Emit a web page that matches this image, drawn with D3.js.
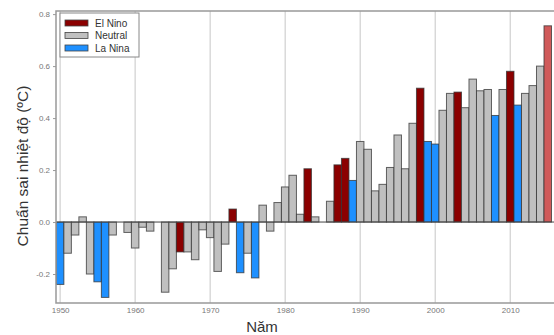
<!DOCTYPE html>
<html>
<head>
<meta charset="utf-8">
<script src="https://cdn.jsdelivr.net/npm/d3@7"></script>
<style>
    body { margin: 0; background: #fff; }
    text { font-family: "Liberation Sans", Arial, sans-serif; }
</style>
</head>
<body>
<script>
//years shown on the chart
var years = d3.range(1950, 2016);

//temperature anomaly per year (degC)
var anomalies = [
    -0.24, -0.12, -0.05, 0.02, -0.20, -0.23, -0.29, -0.05, 0.00, -0.04,
    -0.10, -0.02, -0.035, 0.00, -0.27, -0.18, -0.115, -0.115, -0.145, -0.03,
    -0.06, -0.19, -0.085, 0.05, -0.195, -0.12, -0.215, 0.065, -0.035, 0.075,
    0.135, 0.18, 0.03, 0.205, 0.02, 0.00, 0.08, 0.22, 0.245, 0.16,
    0.31, 0.28, 0.12, 0.145, 0.21, 0.335, 0.205, 0.38, 0.515, 0.31,
    0.30, 0.43, 0.495, 0.50, 0.44, 0.55, 0.505, 0.51, 0.41, 0.51,
    0.58, 0.45, 0.495, 0.525, 0.60, 0.755
];

//ENSO phase per year: E = El Nino, N = Neutral, L = La Nina, P = El Nino (partial year)
var phases = [
    "L","N","N","N","N","L","L","N","N","N",
    "N","N","N","N","N","N","E","N","N","N",
    "N","N","N","E","L","N","L","N","N","N",
    "N","N","N","E","N","N","N","E","E","L",
    "N","N","N","N","N","N","N","N","E","L",
    "L","N","N","E","N","N","N","N","L","N",
    "E","L","N","N","N","P"
];

var legendLabels = ["El Nino", "Neutral", "La Nina"];
var legendPhases = ["E", "N", "L"];
var yTicks = [-0.2, 0.0, 0.2, 0.4, 0.6, 0.8];
var xTicks = [1950, 1960, 1970, 1980, 1990, 2000, 2010];

var colors = {E: "#8b0000", N: "#c0c0c0", L: "#1e90ff", P: "#d05a5a"};

setChart();

function setChart(){
    var width = 554,
        height = 335;

    //plot area
    var left = 56, top = 11, bottom = 303, right = 556;

    var svg = d3.select("body")
        .append("svg")
        .attr("width", width)
        .attr("height", height);

    var x = d3.scaleLinear()
        .domain([1949.45, 2016.1])
        .range([left, right]);

    var y = d3.scaleLinear()
        .domain([-0.3115, 0.812])
        .range([bottom, top]);

    var barW = x(1951) - x(1950);

    //vertical grid lines at each decade
    svg.selectAll(".grid")
        .data(xTicks)
        .enter()
        .append("line")
        .attr("class", "grid")
        .attr("x1", function(d){ return x(d); })
        .attr("x2", function(d){ return x(d); })
        .attr("y1", top)
        .attr("y2", bottom)
        .attr("stroke", "#d0d0d0")
        .attr("stroke-width", 1.2);

    var data = years.map(function(yr, i){
        return {year: yr, value: anomalies[i], phase: phases[i]};
    });

    //bars
    svg.selectAll(".bar")
        .data(data)
        .enter()
        .append("rect")
        .attr("class", "bar")
        .attr("x", function(d){ return x(d.year) - barW / 2; })
        .attr("width", barW)
        .attr("y", function(d){ return y(Math.max(0, d.value)); })
        .attr("height", function(d){ return Math.abs(y(d.value) - y(0)); })
        .attr("fill", function(d){ return colors[d.phase]; })
        .attr("stroke", "#333")
        .attr("stroke-opacity", 0.75)
        .attr("stroke-width", 1);

    //zero line
    svg.append("line")
        .attr("x1", left)
        .attr("x2", right)
        .attr("y1", y(0))
        .attr("y2", y(0))
        .attr("stroke", "#444")
        .attr("stroke-width", 1);

    //frame
    svg.append("path")
        .attr("d", "M" + right + "," + top + "H" + left + "V" + bottom + "H" + right)
        .attr("fill", "none")
        .attr("stroke", "#999")
        .attr("stroke-width", 1.5);

    //y axis
    var yAxis = svg.append("g")
        .attr("transform", "translate(" + left + ",0)")
        .call(d3.axisLeft(y)
            .tickValues(yTicks)
            .tickSize(3)
            .tickFormat(function(d){ return d3.format(".1f")(d).replace("−", "-"); }));
    yAxis.select(".domain").remove();
    yAxis.selectAll("line").attr("stroke", "#999");
    yAxis.selectAll("text")
        .attr("fill", "#777")
        .attr("font-size", "8px")
        .attr("font-family", "Liberation Sans, Arial, sans-serif");

    //x axis
    var xAxis = svg.append("g")
        .attr("transform", "translate(0," + bottom + ")")
        .call(d3.axisBottom(x)
            .tickValues(xTicks)
            .tickSize(0)
            .tickPadding(4)
            .tickFormat(d3.format("d")));
    xAxis.select(".domain").remove();
    xAxis.selectAll("text")
        .attr("fill", "#777")
        .attr("font-size", "8px")
        .attr("font-family", "Liberation Sans, Arial, sans-serif");

    //axis titles
    svg.append("text")
        .attr("transform", "translate(28,166) rotate(-90)")
        .attr("text-anchor", "middle")
        .attr("font-size", "15.5px")
        .attr("fill", "#333")
        .text("Chuẩn sai nhiệt độ (ºC)");

    svg.append("text")
        .attr("x", 262)
        .attr("y", 332)
        .attr("text-anchor", "middle")
        .attr("font-size", "15px")
        .attr("fill", "#333")
        .text("Năm");

    //legend
    var legend = svg.append("g")
        .attr("transform", "translate(60,13)");
    legend.append("rect")
        .attr("width", 79)
        .attr("height", 44)
        .attr("fill", "#fff")
        .attr("stroke", "#888")
        .attr("stroke-width", 1);
    var items = legend.selectAll(".item")
        .data(legendLabels)
        .enter()
        .append("g")
        .attr("class", "item")
        .attr("transform", function(d, i){ return "translate(5," + (10 + i * 12.5) + ")"; });
    items.append("rect")
        .attr("x", 0)
        .attr("y", -3)
        .attr("width", 23)
        .attr("height", 6)
        .attr("fill", function(d, i){ return colors[legendPhases[i]]; })
        .attr("stroke", "#444")
        .attr("stroke-width", 0.8);
    items.append("text")
        .attr("x", 30)
        .attr("y", 3.5)
        .attr("font-size", "10px")
        .attr("fill", "#333")
        .text(function(d){ return d; });
}
</script>
</body>
</html>
